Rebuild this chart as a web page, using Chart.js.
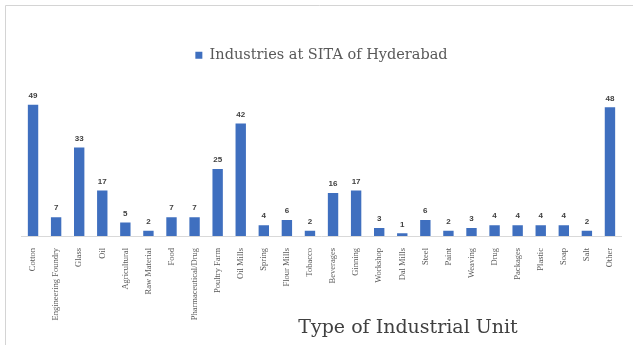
<!DOCTYPE html>
<html>
<head>
<meta charset="utf-8">
<script src="https://cdn.jsdelivr.net/npm/chart.js@4"></script>
<style>
html,body{margin:0;padding:0;background:#fff;}
#c{display:block;}
</style>
</head>
<body>
<canvas id="c" width="633" height="345"></canvas>
<script>
const categories = ["Cotton","Engineering Foundry","Glass","Oil","Agricultural","Raw Material","Food","Pharmaceutical/Drug","Poultry Farm","Oil Mills","Spring","Flour Mills","Tobacco","Beverages","Ginning","Workshop","Dal Mills","Steel","Paint","Weaving","Drug","Packages","Plastic","Soap","Salt","Other"];
const industries = [49,7,33,17,5,2,7,7,25,42,4,6,2,16,17,3,1,6,2,3,4,4,4,4,2,48];
const seriesName = "Industries at SITA of Hyderabad";
const axisTitle = "Type of Industrial Unit";

const frame = {
  id:'frame',
  beforeDraw(chart){
    const ctx = chart.ctx;
    ctx.save();
    ctx.fillStyle = '#fff';
    ctx.fillRect(0,0,chart.width,chart.height);
    ctx.strokeStyle = '#d4d4d4';
    ctx.lineWidth = 1;
    ctx.beginPath();
    ctx.moveTo(5.5, chart.height);
    ctx.lineTo(5.5, 5.5);
    ctx.lineTo(chart.width, 5.5);
    ctx.stroke();
    ctx.restore();
  }
};

const valueLabels = {
  id:'valueLabels',
  afterDatasetsDraw(chart){
    const ctx = chart.ctx;
    const meta = chart.getDatasetMeta(0);
    ctx.save();
    ctx.fillStyle = '#404040';
    ctx.font = 'bold 8px "Liberation Sans", Arial, sans-serif';
    ctx.textAlign = 'center';
    ctx.textBaseline = 'bottom';
    meta.data.forEach((bar, i) => {
      ctx.fillText(String(chart.data.datasets[0].data[i]), bar.x, bar.y - 5);
    });
    ctx.restore();
  }
};

const xTitle = {
  id:'xTitle',
  afterDraw(chart){
    const ctx = chart.ctx;
    ctx.save();
    ctx.fillStyle = '#404040';
    ctx.font = '19px "DejaVu Serif", "Liberation Serif", serif';
    ctx.textAlign = 'center';
    ctx.textBaseline = 'middle';
    ctx.fillText(axisTitle, 408, 328);
    ctx.restore();
  }
};

new Chart(document.getElementById('c'), {
  type:'bar',
  data:{
    labels: categories,
    datasets:[{
      label: seriesName,
      data: industries,
      backgroundColor:'#3f6fbf',
      borderWidth:0,
      categoryPercentage:1,
      barPercentage:0.45
    }]
  },
  options:{
    responsive:false,
    animation:false,
    layout:{padding:{left:21.5,right:11.5,top:29,bottom:0}},
    plugins:{
      legend:{
        display:true,
        position:'top',
        labels:{
          boxWidth:7, boxHeight:7,
          color:'#595959',
          font:{family:'"DejaVu Serif", "Liberation Serif", serif', size:14.5},
          padding:19
        }
      },
      tooltip:{enabled:false}
    },
    scales:{
      x:{
        grid:{display:false},
        border:{display:true,color:'#d9d9d9'},
        ticks:{
          autoSkip:false,
          maxRotation:90, minRotation:90,
          color:'#595959',
          padding:4,
          font:{family:'"Liberation Serif", "Times New Roman", serif', size:8.5}
        },
        afterFit(scale){ scale.height = 109; }
      },
      y:{
        display:false,
        min:0, max:61
      }
    }
  },
  plugins:[frame, valueLabels, xTitle]
});
</script>
</body>
</html>
